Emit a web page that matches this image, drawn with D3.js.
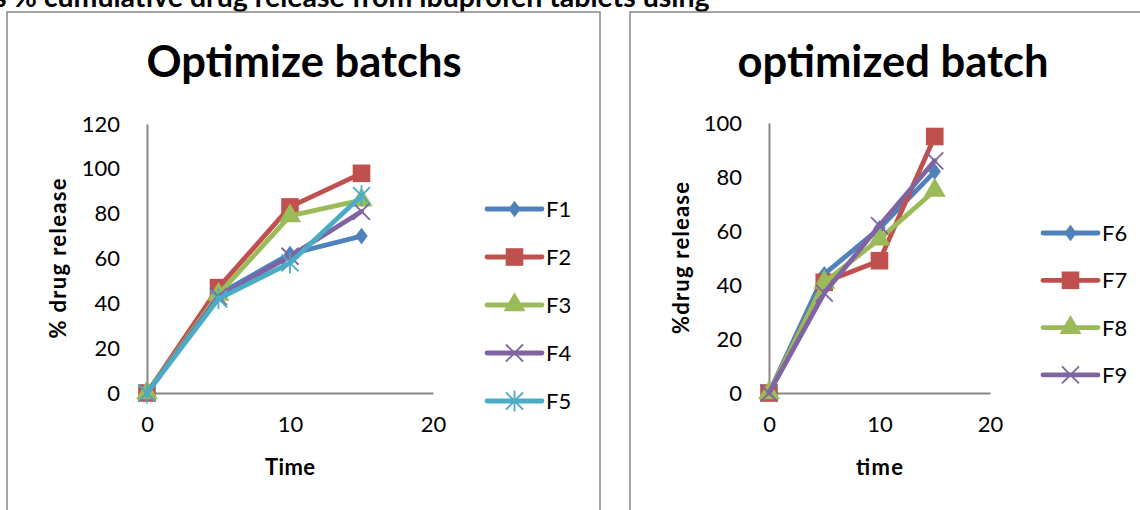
<!DOCTYPE html>
<html>
<head>
<meta charset="utf-8">
<script src="https://cdn.jsdelivr.net/npm/d3@7"></script>
<style>
  body { margin: 0; background: #fff; overflow: hidden; }
  svg { display: block; }
  text { font-family: Lato, "Liberation Sans", sans-serif; fill: #000; }
</style>
</head>
<body>
<script>
// data
let times = [0, 5, 10, 15];

let leftNames = ['F1', 'F2', 'F3', 'F4', 'F5'];
let leftValues = [
    [0, 44, 62, 70],
    [0, 47, 83, 98],
    [0, 44, 79, 86],
    [0, 43, 61, 81],
    [0, 42, 58, 88]
];
let leftTicks = [0, 20, 40, 60, 80, 100, 120];

let rightNames = ['F6', 'F7', 'F8', 'F9'];
let rightValues = [
    [0, 44, 61, 82],
    [0, 41, 49, 95],
    [0, 41, 57, 75],
    [0, 37, 62, 86]
];
let rightTicks = [0, 20, 40, 60, 80, 100];

let xTicks = [0, 10, 20];

let colors = ['#4F81BD', '#C0504D', '#9BBB59', '#8064A2', '#4BACC6'];
let shapes = ['diamond', 'square', 'triangle', 'x', 'star'];

let width = 1140;
let height = 510;

let svg = d3.select('body')
    .append('svg')
    .attr('width', width)
    .attr('height', height);

// heading cut off at the top of the page
svg.append('text')
    .attr('x', -6)
    .attr('y', 7)
    .attr('font-size', 28.5)
    .attr('font-weight', 'bold')
    .text('s % cumulative drug release from ibuprofen tablets using');

// chart frames
svg.append('rect')
    .attr('x', 7).attr('y', 12)
    .attr('width', 593).attr('height', 520)
    .attr('fill', 'none').attr('stroke', '#878787').attr('stroke-width', 1.5);
svg.append('rect')
    .attr('x', 630).attr('y', 12)
    .attr('width', 540).attr('height', 520)
    .attr('fill', 'none').attr('stroke', '#878787').attr('stroke-width', 1.5);

function marker(g, shape, color, x, y) {
    if (shape === 'diamond') {
        g.append('path')
            .attr('d', d3.symbol(d3.symbolDiamond2, 160)())
            .attr('transform', `translate(${x},${y}) scale(0.78,1.05)`)
            .attr('fill', color);
    } else if (shape === 'square') {
        g.append('path')
            .attr('d', d3.symbol(d3.symbolSquare, 310)())
            .attr('transform', `translate(${x},${y})`)
            .attr('fill', color);
    } else if (shape === 'triangle') {
        g.append('path')
            .attr('d', d3.symbol(d3.symbolTriangle, 210)())
            .attr('transform', `translate(${x},${y})`)
            .attr('fill', color);
    } else {
        let s = 8.5;
        let p = d3.path();
        p.moveTo(-s, -s); p.lineTo(s, s);
        p.moveTo(-s, s); p.lineTo(s, -s);
        if (shape === 'star') {
            p.moveTo(0, -s - 2); p.lineTo(0, s + 2);
        }
        g.append('path')
            .attr('d', p.toString())
            .attr('transform', `translate(${x},${y})`)
            .attr('fill', 'none')
            .attr('stroke', color)
            .attr('stroke-width', 1.8);
    }
}

function drawChart(opts) {
    let x = d3.scaleLinear().domain([0, 20]).range([opts.left, opts.right]);
    let y = d3.scaleLinear().domain([0, opts.yMax]).range([opts.bottom, opts.top]);

    let g = svg.append('g');

    // axes
    let yAxis = d3.axisLeft(y).tickValues(opts.yTicks).tickSize(0).tickPadding(27);
    let xAxis = d3.axisBottom(x).tickValues(xTicks).tickSize(0).tickPadding(23);

    let ya = g.append('g').attr('transform', `translate(${opts.left},0)`).call(yAxis);
    let xa = g.append('g').attr('transform', `translate(0,${opts.bottom})`).call(xAxis);
    [ya, xa].forEach(a => {
        a.select('.domain').attr('stroke', '#878787').attr('stroke-width', 2);
        a.selectAll('text').attr('font-size', 22).attr('font-family', 'Lato, sans-serif').attr('fill', '#000');
    });
    xa.selectAll('text').attr('dy', '0.71em');

    // title
    g.append('text')
        .attr('x', opts.titleX)
        .attr('y', 77)
        .attr('text-anchor', 'middle')
        .attr('font-size', 43.5)
        .attr('font-weight', 'bold')
        .text(opts.title);

    // axis titles
    g.append('text')
        .attr('transform', `translate(${opts.yLabelX},${(opts.top + opts.bottom) / 2}) rotate(-90)`)
        .attr('text-anchor', 'middle')
        .attr('font-size', 22)
        .attr('font-weight', 'bold')
        .attr('textLength', opts.yLabelLen)
        .attr('lengthAdjust', 'spacing')
        .text(opts.yLabel);
    g.append('text')
        .attr('x', x(10))
        .attr('y', 475)
        .attr('text-anchor', 'middle')
        .attr('font-size', 22)
        .attr('font-weight', 'bold')
        .attr('textLength', opts.xLabelLen)
        .attr('lengthAdjust', 'spacing')
        .text(opts.xLabel);

    let line = d3.line()
        .x((d, i) => x(times[i]))
        .y(d => y(d));

    opts.values.forEach((vals, k) => {
        let sg = g.append('g');
        sg.append('path')
            .attr('d', line(vals))
            .attr('fill', 'none')
            .attr('stroke', colors[k])
            .attr('stroke-width', 4.8)
            .attr('stroke-linejoin', 'round')
            .attr('stroke-linecap', 'round');
        vals.forEach((v, i) => marker(sg, shapes[k], colors[k], x(times[i]), y(v)));
    });

    // legend
    let lg = g.append('g');
    opts.names.forEach((name, k) => {
        let ly = opts.legendY + k * opts.legendStep;
        lg.append('line')
            .attr('x1', opts.legendX).attr('x2', opts.legendX + 55)
            .attr('y1', ly).attr('y2', ly)
            .attr('stroke', colors[k]).attr('stroke-width', 4.8)
            .attr('stroke-linecap', 'round');
        marker(lg, shapes[k], colors[k], opts.legendX + 27.5, ly);
        lg.append('text')
            .attr('x', opts.legendX + 59)
            .attr('y', ly)
            .attr('dy', '0.36em')
            .attr('font-size', 22)
            .text(name);
    });
}

drawChart({
    title: 'Optimize batchs', titleX: 304,
    yLabel: '% drug release', yLabelX: 66, yLabelLen: 160,
    xLabel: 'Time', xLabelLen: 50,
    left: 147, right: 433, top: 124, bottom: 393, yMax: 120,
    yTicks: leftTicks, values: leftValues, names: leftNames,
    legendX: 487, legendY: 209, legendStep: 48
});

drawChart({
    title: 'optimized batch', titleX: 893,
    yLabel: '%drug release', yLabelX: 689, yLabelLen: 152,
    xLabel: 'time', xLabelLen: 47,
    left: 769, right: 990, top: 123, bottom: 393, yMax: 100,
    yTicks: rightTicks, values: rightValues, names: rightNames,
    legendX: 1043, legendY: 233, legendStep: 47.3
});
</script>
</body>
</html>
